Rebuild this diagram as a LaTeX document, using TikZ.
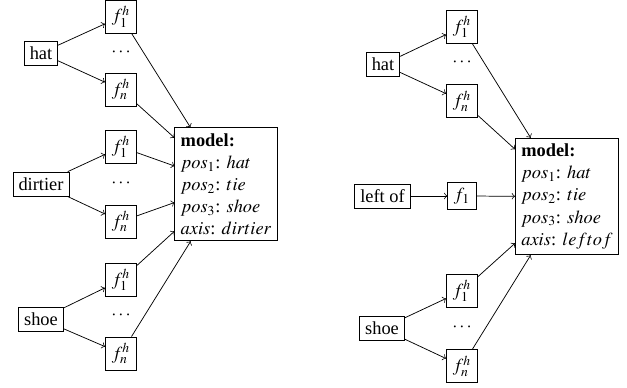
\documentclass[tikz,border=0pt]{standalone}
\usepackage{mathptmx}
\usepackage{fontspec}
\setmainfont{Liberation Serif}
\begin{document}
\begin{tikzpicture}[x=0.5435pt,y=-0.5435pt,
  box/.style={draw,inner sep=3pt},
  fbox/.style={draw,inner sep=2.5pt,minimum width=17pt,minimum height=18pt},
  dotsn/.style={inner sep=0pt},
  modelbox/.style={draw,align=left,inner sep=3.2pt},
  conn/.style={->}]
\useasboundingbox (0,0) rectangle (627,387);
% left diagram
\node[box] (hatL) at (41,53) {hat};
\node[fbox] (f1a) at (121,16.5) {$f_1^h$};
\node[dotsn] (dA) at (121,52) {$\cdots$};
\node[fbox] (fna) at (121,89.5) {$f_n^h$};
\node[box] (dirt) at (41,184) {dirtier};
\node[fbox] (f1b) at (121,147) {$f_1^h$};
\node[dotsn] (dB) at (121,183) {$\cdots$};
\node[fbox] (fnb) at (121,221.5) {$f_n^h$};
\node[box] (shoeL) at (41,319) {shoe};
\node[fbox] (f1c) at (121,280) {$f_1^h$};
\node[dotsn] (dC) at (121,315) {$\cdots$};
\node[fbox] (fnc) at (121,353.5) {$f_n^h$};
\node[modelbox] (modelL) at (226,184.3) {\textbf{model:}\\ $pos_1$: $hat$\\ $pos_2$: $tie$\\ $pos_3$: $shoe$\\ $axis$: $dirtier$};
\foreach \s/\t in {hatL/f1a,hatL/fna,dirt/f1b,dirt/fnb,shoeL/f1c,shoeL/fnc,f1a/modelL,fna/modelL,f1b/modelL,fnb/modelL,f1c/modelL,fnc/modelL}
  \draw[conn] (\s) -- (\t);
% right diagram
\node[box] (hatR) at (383,64.5) {hat};
\node[fbox] (f1d) at (462,27) {$f_1^h$};
\node[dotsn] (dD) at (462,62) {$\cdots$};
\node[fbox] (fnd) at (462,101) {$f_n^h$};
\node[box] (leftof) at (382.5,196) {left of};
\node[draw,inner sep=2.5pt,minimum width=15.5pt,minimum height=14.5pt] (f1e) at (462,196) {$f_1$};
\node[box] (shoeR) at (382,328.5) {shoe};
\node[fbox] (f1f) at (462,291) {$f_1^h$};
\node[dotsn] (dF) at (462,327) {$\cdots$};
\node[fbox] (fnf) at (462,366) {$f_n^h$};
\node[modelbox] (modelR) at (567,196.5) {\textbf{model:}\\ $pos_1$: $hat$\\ $pos_2$: $tie$\\ $pos_3$: $shoe$\\ $axis$: $leftof$};
\foreach \s/\t in {hatR/f1d,hatR/fnd,leftof/f1e,shoeR/f1f,shoeR/fnf,f1d/modelR,fnd/modelR,f1e/modelR,f1f/modelR,fnf/modelR}
  \draw[conn] (\s) -- (\t);
\end{tikzpicture}
\end{document}
